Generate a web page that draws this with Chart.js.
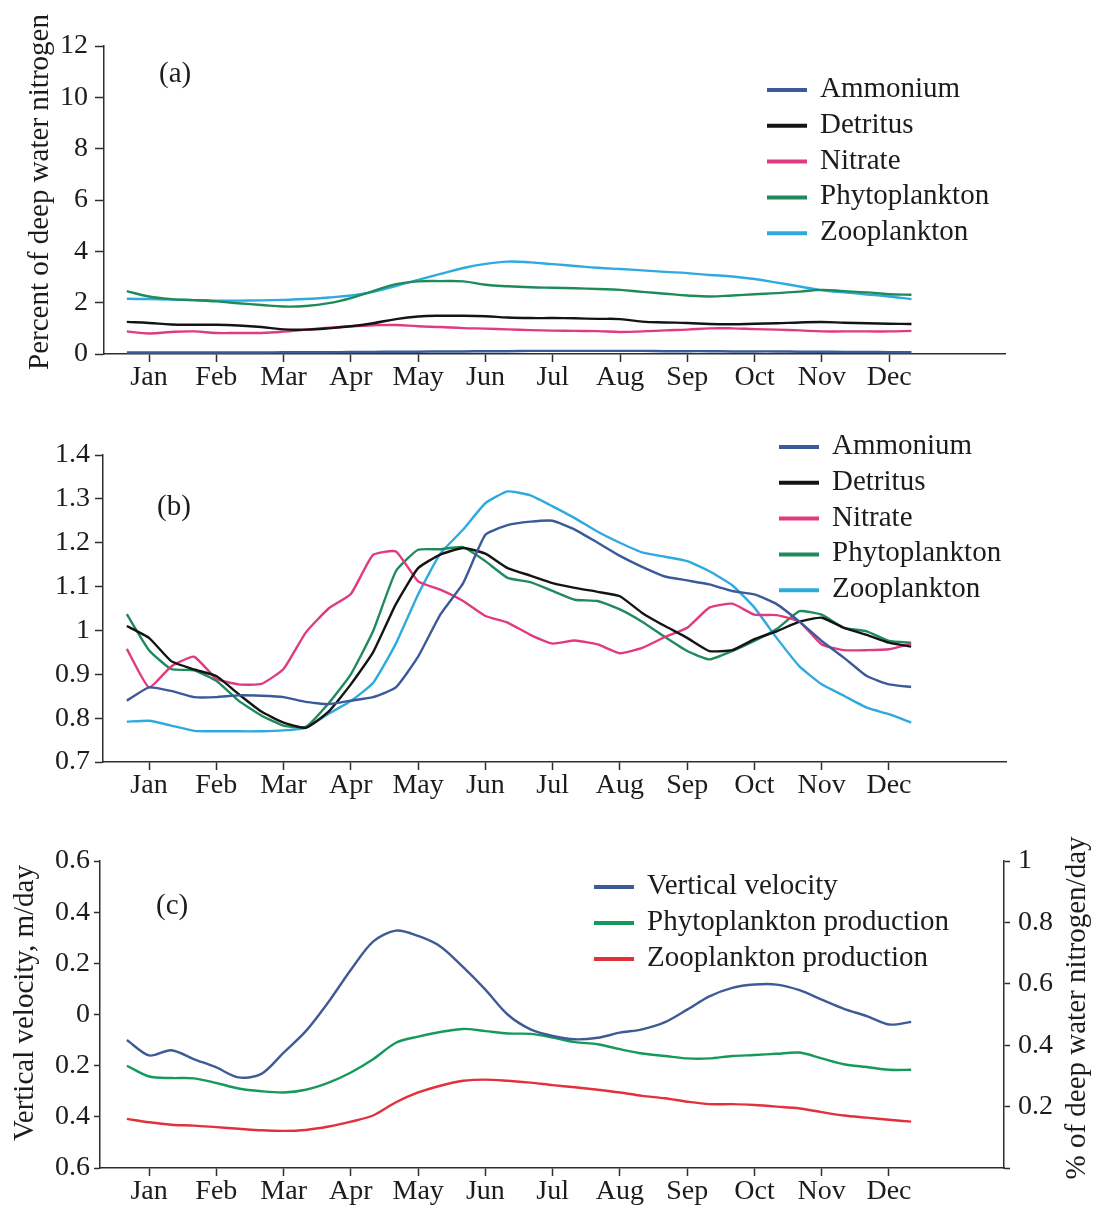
<!DOCTYPE html>
<html>
<head>
<meta charset="utf-8">
<title>Seasonal nitrogen pools</title>
<script src="https://cdn.jsdelivr.net/npm/chart.js@4.4.1/dist/chart.umd.min.js"></script>
<style>
  body { margin: 0; background: #fff; }
  .panel { position: absolute; left: 0; }
</style>
</head>
<body>
<canvas id="chartA" class="panel" width="1096" height="410" style="top:0;width:1096px;height:410px"></canvas>
<canvas id="chartB" class="panel" width="1096" height="410" style="top:410px;width:1096px;height:410px"></canvas>
<canvas id="chartC" class="panel" width="1096" height="388" style="top:820px;width:1096px;height:388px"></canvas>
<script>
// Model output every ten days, positions in months (Jan = 0)
const dekads = [-0.33, 0, 0.33, 0.67, 1, 1.33, 1.67, 2, 2.33, 2.67, 3, 3.33, 3.67, 4, 4.33, 4.67, 5, 5.33,
                5.67, 6, 6.33, 6.67, 7, 7.33, 7.67, 8, 8.33, 8.67, 9, 9.33, 9.67, 10, 10.33, 10.67, 11, 11.33];
const monthNames = ['Jan', 'Feb', 'Mar', 'Apr', 'May', 'Jun', 'Jul', 'Aug', 'Sep', 'Oct', 'Nov', 'Dec'];

// (a) percent of deep water nitrogen
const ammoniumA = [0.06, 0.06, 0.06, 0.06, 0.06, 0.06, 0.06, 0.07, 0.07, 0.07, 0.08, 0.08, 0.09, 0.09, 0.10, 0.10, 0.11, 0.11,
                   0.12, 0.12, 0.12, 0.12, 0.12, 0.12, 0.11, 0.11, 0.11, 0.10, 0.10, 0.10, 0.09, 0.09, 0.08, 0.08, 0.07, 0.07];
const detritusA = [1.25, 1.21, 1.15, 1.14, 1.14, 1.11, 1.05, 0.96, 0.95, 1.00, 1.08, 1.20, 1.36, 1.46, 1.49, 1.49, 1.47, 1.42,
                   1.40, 1.40, 1.39, 1.37, 1.36, 1.26, 1.23, 1.21, 1.17, 1.16, 1.18, 1.20, 1.23, 1.245, 1.22, 1.20, 1.18, 1.17];
const nitrateA = [0.88, 0.80, 0.86, 0.88, 0.82, 0.82, 0.82, 0.87, 0.95, 1.02, 1.08, 1.12, 1.13, 1.08, 1.05, 1.01, 0.99, 0.96,
                  0.93, 0.91, 0.90, 0.89, 0.86, 0.88, 0.92, 0.95, 1.00, 1.00, 0.97, 0.95, 0.92, 0.88, 0.88, 0.88, 0.88, 0.90];
const phytoA = [2.45, 2.24, 2.14, 2.10, 2.05, 1.98, 1.91, 1.85, 1.87, 1.98, 2.18, 2.45, 2.72, 2.83, 2.84, 2.83, 2.70, 2.64,
                2.60, 2.58, 2.56, 2.53, 2.50, 2.42, 2.35, 2.28, 2.24, 2.28, 2.33, 2.37, 2.43, 2.50, 2.45, 2.40, 2.33, 2.31];
const zooA = [2.15, 2.14, 2.12, 2.10, 2.08, 2.08, 2.09, 2.11, 2.14, 2.20, 2.28, 2.42, 2.65, 2.89, 3.12, 3.35, 3.51, 3.60,
              3.57, 3.50, 3.43, 3.36, 3.31, 3.26, 3.20, 3.15, 3.08, 3.02, 2.92, 2.78, 2.63, 2.48, 2.40, 2.32, 2.24, 2.14];

// (b) relative values
const ammoniumB = [0.84, 0.87, 0.862, 0.848, 0.848, 0.852, 0.851, 0.848, 0.837, 0.832, 0.84, 0.848, 0.87, 0.94, 1.036, 1.108, 1.218, 1.24,
                   1.248, 1.25, 1.23, 1.2, 1.17, 1.145, 1.123, 1.114, 1.105, 1.09, 1.082, 1.06, 1.02, 0.976, 0.938, 0.896, 0.877, 0.871];
const detritusB = [1.01, 0.983, 0.93, 0.911, 0.896, 0.855, 0.815, 0.79, 0.778, 0.815, 0.877, 0.95, 1.06, 1.142, 1.173, 1.188, 1.175, 1.142,
                   1.125, 1.108, 1.097, 1.088, 1.078, 1.04, 1.01, 0.983, 0.953, 0.955, 0.98, 0.998, 1.02, 1.029, 1.006, 0.99, 0.972, 0.963];
const nitrateB = [0.958, 0.87, 0.918, 0.94, 0.89, 0.877, 0.878, 0.912, 0.995, 1.05, 1.083, 1.172, 1.18, 1.112, 1.093, 1.067, 1.033, 1.018,
                  0.99, 0.97, 0.977, 0.968, 0.948, 0.96, 0.985, 1.006, 1.052, 1.061, 1.036, 1.035, 1.02, 0.968, 0.955, 0.955, 0.957, 0.97];
const phytoB = [1.037, 0.955, 0.912, 0.909, 0.885, 0.84, 0.806, 0.783, 0.78, 0.834, 0.9, 0.998, 1.135, 1.184, 1.185, 1.19, 1.158, 1.12,
                1.11, 1.09, 1.07, 1.067, 1.048, 1.02, 0.985, 0.953, 0.934, 0.953, 0.976, 1.003, 1.044, 1.036, 1.006, 0.998, 0.976, 0.972];
const zooB = [0.792, 0.794, 0.783, 0.771, 0.77, 0.77, 0.77, 0.772, 0.778, 0.81, 0.839, 0.88, 0.97, 1.082, 1.175, 1.23, 1.29, 1.317,
              1.308, 1.283, 1.256, 1.225, 1.2, 1.178, 1.168, 1.158, 1.135, 1.103, 1.052, 0.983, 0.918, 0.877, 0.851, 0.824, 0.809, 0.79];

// (c) vertical velocity (m/day) and production (% of deep water nitrogen per day)
const velocityC = [-0.1, -0.16, -0.14, -0.175, -0.207, -0.246, -0.232, -0.149, -0.065, 0.05, 0.175, 0.285, 0.328, 0.307, 0.266, 0.185, 0.097, 0.0,
                   -0.058, -0.084, -0.097, -0.091, -0.071, -0.058, -0.03, 0.019, 0.071, 0.104, 0.117, 0.117, 0.095, 0.058, 0.022, -0.006, -0.039, -0.029];
const phytoProdC = [0.333, 0.298, 0.293, 0.292, 0.277, 0.259, 0.25, 0.246, 0.255, 0.278, 0.311, 0.354, 0.408, 0.428, 0.443, 0.453, 0.446, 0.438,
                    0.437, 0.425, 0.41, 0.403, 0.387, 0.373, 0.365, 0.357, 0.357, 0.365, 0.368, 0.372, 0.376, 0.357, 0.338, 0.329, 0.32, 0.32];
const zooProdC = [0.16, 0.149, 0.141, 0.138, 0.133, 0.128, 0.123, 0.121, 0.124, 0.135, 0.151, 0.171, 0.214, 0.246, 0.268, 0.284, 0.288, 0.284,
                  0.278, 0.27, 0.263, 0.255, 0.246, 0.235, 0.227, 0.216, 0.208, 0.208, 0.205, 0.2, 0.194, 0.182, 0.171, 0.164, 0.157, 0.151];

const serif = '"Liberation Serif", "Times New Roman", Times, serif';
const ink = '#1c1c1c';
const axisColor = '#2e2e2e';
const colors = {
    ammonium: '#3c5a99',
    detritus: '#141414',
    nitrate: '#e03a80',
    phyto: '#1f8b5b',
    zoo: '#2eaae1',
    velocity: '#3f5b96',
    phytoProd: '#169a5c',
    zooProd: '#e2303c'
};

function series(values) {
    return dekads.map((x, i) => ({ x: x, y: values[i] }));
}

function line(label, values, color, extra) {
    return Object.assign({
        label: label,
        data: series(values),
        borderColor: color,
        backgroundColor: color,
        borderWidth: 2.4,
        pointRadius: 0,
        fill: false
    }, extra || {});
}

// Panel tag, in-plot legend and rotated axis titles
const panelDecor = {
    id: 'panelDecor',
    afterDraw(chart, args, opts) {
        const ctx = chart.ctx;
        ctx.save();
        ctx.font = opts.fontSize + 'px ' + serif;
        ctx.fillStyle = ink;
        ctx.textAlign = 'left';
        ctx.textBaseline = 'alphabetic';
        ctx.fillText(opts.tag, opts.tagX, opts.tagY);

        chart.data.datasets.forEach((ds, i) => {
            const y = opts.legendY + i * opts.legendStep;
            ctx.strokeStyle = ds.borderColor;
            ctx.lineWidth = 4;
            ctx.beginPath();
            ctx.moveTo(opts.legendX, y - 7);
            ctx.lineTo(opts.legendX + 40, y - 7);
            ctx.stroke();
            ctx.fillText(ds.label, opts.legendX + 53, y);
        });

        (opts.titles || []).forEach(t => {
            ctx.save();
            ctx.translate(t.x, t.y);
            ctx.rotate(-Math.PI / 2);
            ctx.textAlign = 'center';
            ctx.textBaseline = 'middle';
            ctx.fillText(t.text, 0, 0);
            ctx.restore();
        });
        ctx.restore();
    }
};

function monthAxis(min, max, height) {
    return {
        type: 'linear',
        min: min,
        max: max,
        afterBuildTicks: s => { s.ticks = monthNames.map((_, i) => ({ value: i })); },
        afterFit: s => { s.height = height; },
        ticks: {
            callback: v => monthNames[v],
            font: { family: serif, size: 28 },
            color: ink,
            padding: -1,
            autoSkip: false,
            maxRotation: 0
        },
        grid: { drawOnChartArea: false, drawTicks: true, tickLength: 8, tickColor: axisColor, tickWidth: 1.5 },
        border: { display: true, color: axisColor, width: 1.5 }
    };
}

function valueAxis(position, min, max, step, width, tickLen, pad, callback) {
    return {
        type: 'linear',
        position: position,
        min: min,
        max: max,
        afterFit: s => { s.width = width; },
        ticks: {
            stepSize: step,
            callback: callback,
            font: { family: serif, size: 28 },
            color: ink,
            padding: pad
        },
        grid: { drawOnChartArea: false, drawTicks: true, tickLength: tickLen, tickColor: axisColor, tickWidth: 1.5 },
        border: { display: true, color: axisColor, width: 1.5 }
    };
}

function baseOptions(padding, scales, decor) {
    return {
        responsive: false,
        animation: false,
        layout: { padding: padding },
        plugins: {
            legend: { display: false },
            tooltip: { enabled: false },
            panelDecor: decor
        },
        scales: scales
    };
}

const oneDecimal = v => {
    const r = Math.round(v * 10) / 10;
    return r === 1 ? '1' : r.toFixed(1);
};

// (a)
new Chart(document.getElementById('chartA'), {
    type: 'line',
    data: {
        datasets: [
            line('Ammonium', ammoniumA, colors.ammonium, { tension: 0.4 }),
            line('Detritus', detritusA, colors.detritus, { tension: 0.4 }),
            line('Nitrate', nitrateA, colors.nitrate, { tension: 0.4 }),
            line('Phytoplankton', phytoA, colors.phyto, { tension: 0.4 }),
            line('Zooplankton', zooA, colors.zoo, { tension: 0.4 })
        ]
    },
    options: baseOptions(
        { top: 46, right: 91, bottom: 0, left: 0 },
        {
            x: monthAxis(-0.669, 12.72, 56),
            y: valueAxis('left', 0, 12, 2, 104, 9, 7, v => String(Math.round(v)))
        },
        {
            fontSize: 29, tag: '(a)', tagX: 159, tagY: 82,
            legendX: 767, legendY: 97, legendStep: 35.8,
            titles: [{ text: 'Percent of deep water nitrogen', x: 40, y: 192 }]
        }
    ),
    plugins: [panelDecor]
});

// (b)
new Chart(document.getElementById('chartB'), {
    type: 'line',
    data: {
        datasets: [
            line('Ammonium', ammoniumB, colors.ammonium, { tension: 0.15 }),
            line('Detritus', detritusB, colors.detritus, { tension: 0.15 }),
            line('Nitrate', nitrateB, colors.nitrate, { tension: 0.15 }),
            line('Phytoplankton', phytoB, colors.phyto, { tension: 0.15 }),
            line('Zooplankton', zooB, colors.zoo, { tension: 0.15 })
        ]
    },
    options: baseOptions(
        { top: 45, right: 90, bottom: 0, left: 0 },
        {
            x: monthAxis(-0.684, 12.74, 58),
            y: valueAxis('left', 0.7, 1.4, 0.1, 103, 8, 5, oneDecimal)
        },
        {
            fontSize: 29, tag: '(b)', tagX: 157, tagY: 105,
            legendX: 779, legendY: 44, legendStep: 35.8
        }
    ),
    plugins: [panelDecor]
});

// (c)
new Chart(document.getElementById('chartC'), {
    type: 'line',
    data: {
        datasets: [
            line('Vertical velocity', velocityC, colors.velocity, { tension: 0.3, yAxisID: 'y' }),
            line('Phytoplankton production', phytoProdC, colors.phytoProd, { tension: 0.3, yAxisID: 'y2' }),
            line('Zooplankton production', zooProdC, colors.zooProd, { tension: 0.3, yAxisID: 'y2' })
        ]
    },
    options: baseOptions(
        { top: 41, right: 0, bottom: 0, left: 0 },
        {
            x: monthAxis(-0.73, 12.71, 40),
            y: valueAxis('left', -0.6, 0.6, 0.2, 100, 6, 4, v => {
                const r = Math.abs(Math.round(v * 10) / 10);
                return r === 0 ? '0' : r.toFixed(1);
            }),
            y2: valueAxis('right', 0, 1, 0.1, 92, 6, 8, v => {
                const t = Math.round(v * 10);
                if (t === 0 || t % 2) return '';
                return t === 10 ? '1' : (t / 10).toFixed(1);
            })
        },
        {
            fontSize: 29, tag: '(c)', tagX: 156, tagY: 94,
            legendX: 594, legendY: 74, legendStep: 36,
            titles: [
                { text: 'Vertical velocity, m/day', x: 25, y: 183 },
                { text: '% of deep water nitrogen/day', x: 1077, y: 188 }
            ]
        }
    ),
    plugins: [panelDecor]
});
</script>
</body>
</html>
